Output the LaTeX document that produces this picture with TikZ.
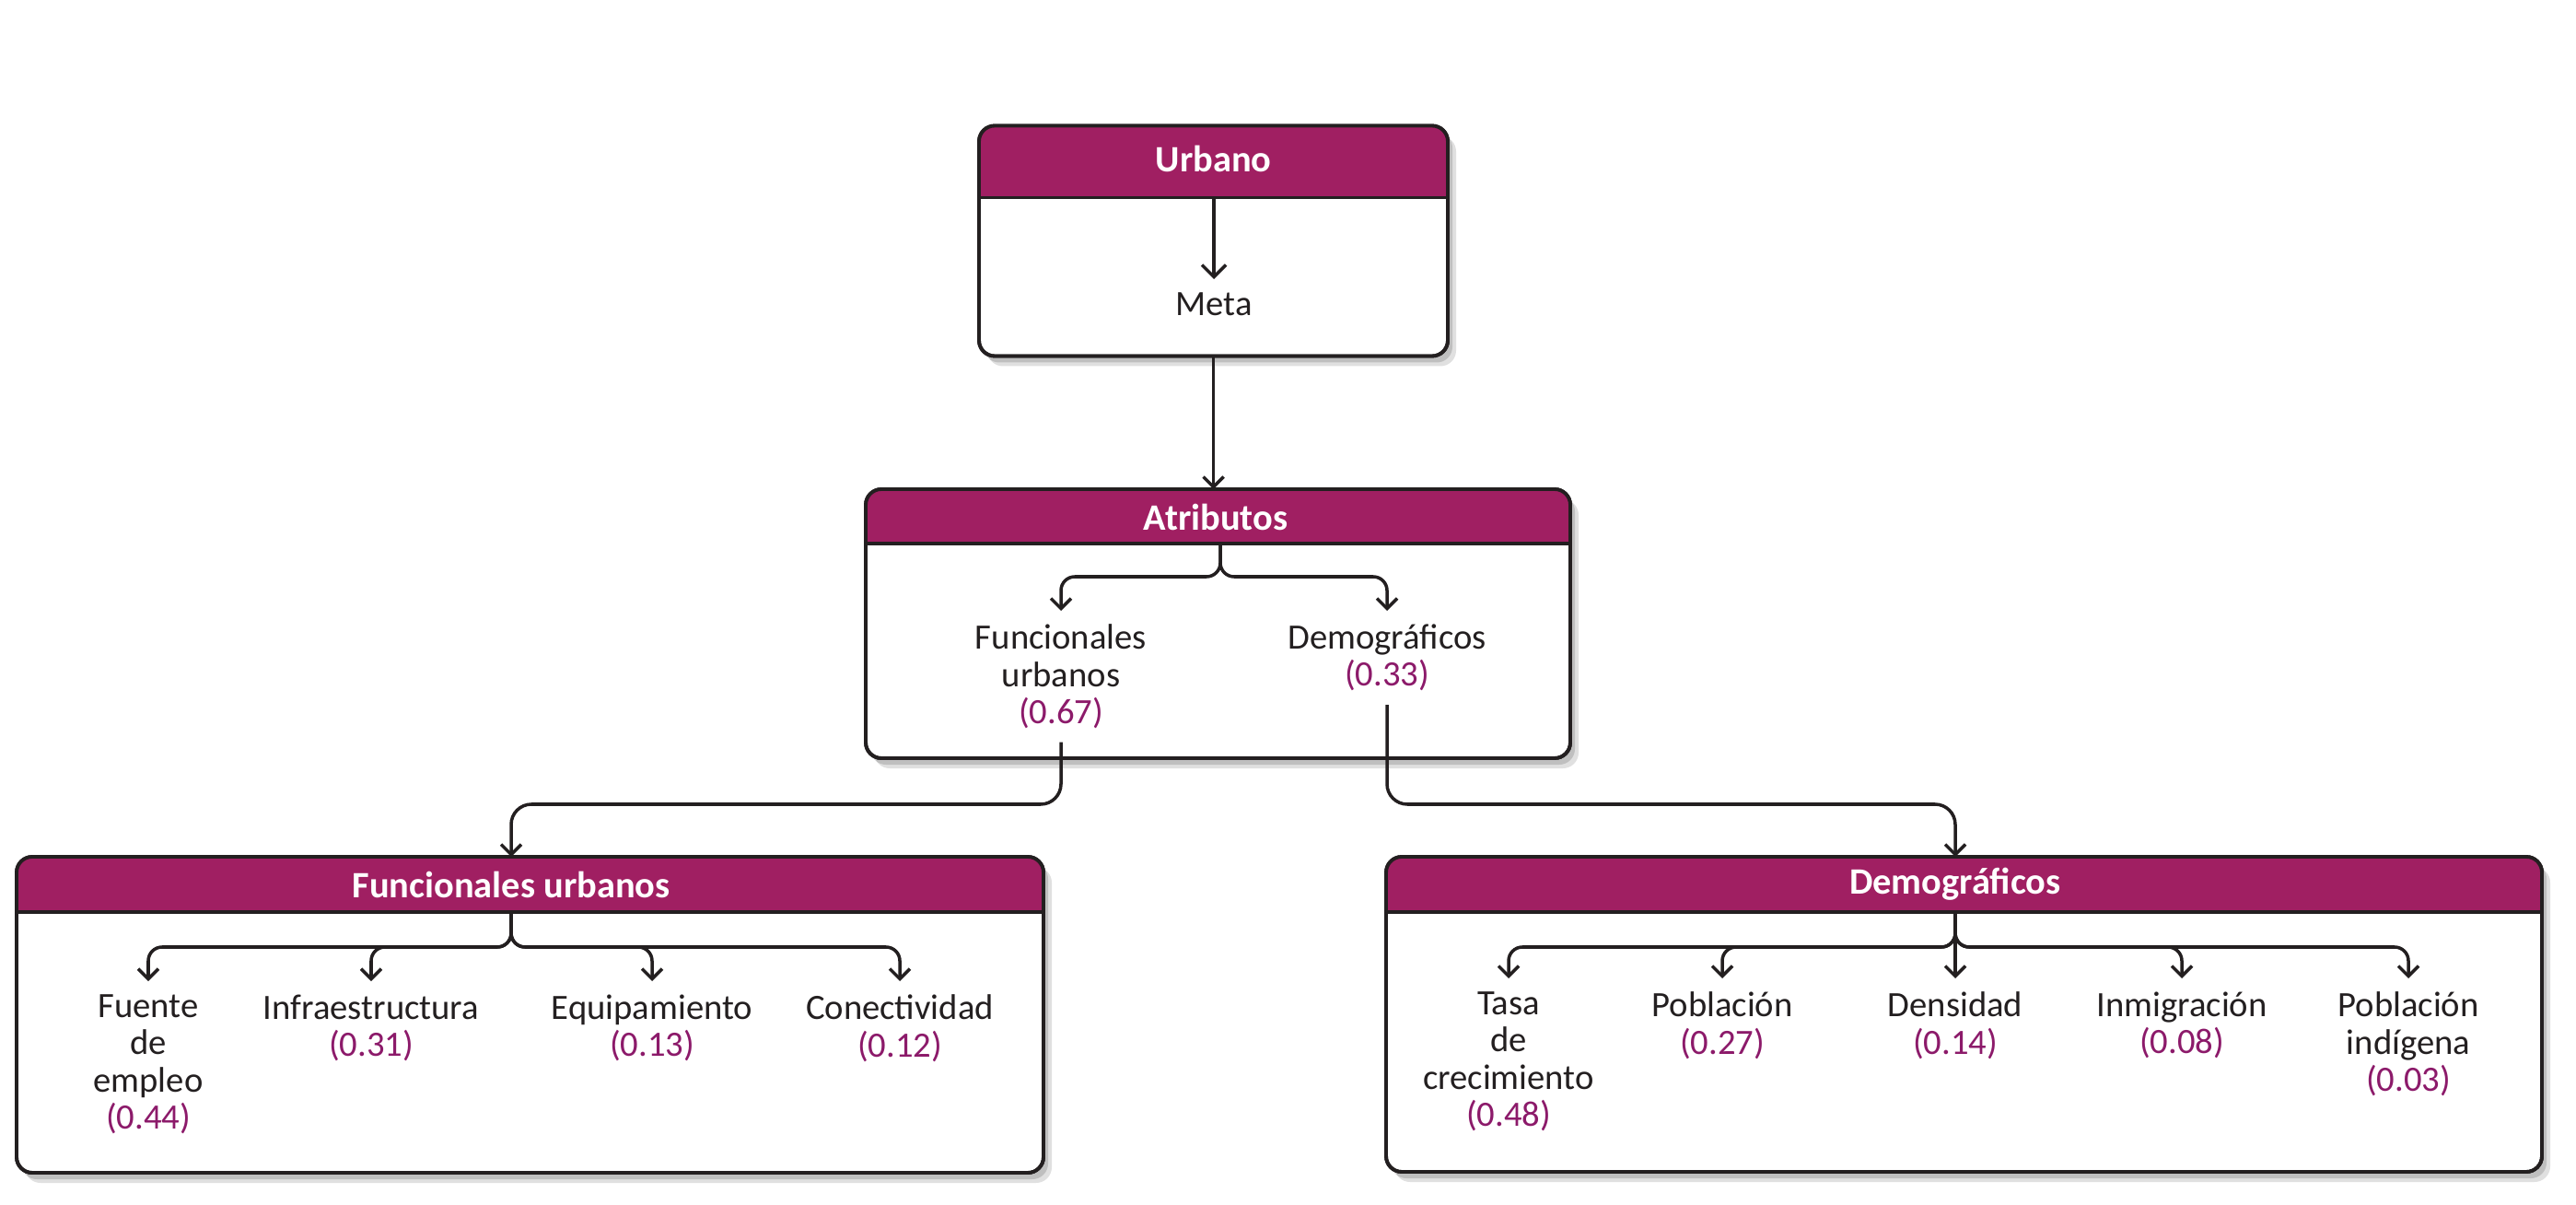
\documentclass[tikz,border=0pt]{standalone}
\usepackage{fontspec}
\setmainfont{Carlito}
\usetikzlibrary{arrows.meta,shadows}
\definecolor{headfill}{HTML}{A01F62}
\definecolor{wtcol}{HTML}{8C1A6A}
\definecolor{linecol}{HTML}{231F20}
\newcommand{\wt}[1]{\textcolor{wtcol}{#1}}
\tikzset{
  panel/.style={draw=linecol, line width=1.1pt, fill=white, rounded corners=0.17cm,
    inner sep=0pt, outer sep=0pt,
    drop shadow={shadow xshift=0.09cm, shadow yshift=-0.11cm, opacity=0.12, fill=black},
    drop shadow={shadow xshift=0.05cm, shadow yshift=-0.07cm, opacity=0.15, fill=black}},
  headtext/.style={text=white, font=\fontsize{11.5}{12}\selectfont\bfseries},
  item/.style={align=center, text=linecol, inner sep=4pt, anchor=north,
    font=\fontsize{11}{11.5}\selectfont},
  conn/.style={draw=linecol, line width=1pt, -{Straight Barb[length=0.11cm,width=0.22cm]}},
}
\begin{document}
\begin{tikzpicture}
  \useasboundingbox (0,0) rectangle (27.97,-13.08);
  \node[panel, minimum width=5.09cm, minimum height=2.50cm] (urb) at (13.175,-2.615) {};
  \node[panel, minimum width=7.65cm, minimum height=2.92cm] (atr) at (13.225,-6.77) {};
  \node[panel, minimum width=11.15cm, minimum height=3.43cm] (fun) at (5.755,-11.015) {};
  \node[panel, minimum width=12.55cm, minimum height=3.42cm] (dem) at (21.325,-11.01) {};
  \foreach \p/\h in {urb/0.78,atr/0.59,fun/0.60,dem/0.60}{
    \begin{scope}
      \clip[rounded corners=0.17cm] (\p.south west) rectangle (\p.north east);
      \fill[headfill] (\p.north west) rectangle ([yshift=-\h cm]\p.north east);
    \end{scope}
    \draw[linecol, line width=1.1pt] ([yshift=-\h cm]\p.north west) -- ([yshift=-\h cm]\p.north east);
    \draw[linecol, line width=1.1pt, rounded corners=0.17cm] (\p.south west) rectangle (\p.north east);
  }
  \node[headtext] (urbT) at (13.175,-1.72) {Urbano};
  \node[headtext] (atrT) at (13.20,-5.61) {Atributos};
  \node[headtext] (funT) at (5.55,-9.60) {Funcionales urbanos};
  \node[headtext] (demT) at (21.23,-9.60) {Demográficos};

  \node[item] (meta) at (13.18,-3.03) {Meta};

  \node[item] (fu) at (11.52,-6.63) {Funcionales\\urbanos\\\wt{(0.67)}};
  \node[item] (dm) at (15.06,-6.63) {Demográficos\\\wt{(0.33)}};

  \node[item] (fe) at (1.61,-10.65) {Fuente\\de\\empleo\\\wt{(0.44)}};
  \node[item] (inf) at (4.03,-10.65) {Infraestructura\\\wt{(0.31)}};
  \node[item] (eq) at (7.08,-10.65) {Equipamiento\\\wt{(0.13)}};
  \node[item] (co) at (9.77,-10.65) {Conectividad\\\wt{(0.12)}};

  \node[item] (ta) at (16.38,-10.62) {Tasa\\de\\crecimiento\\\wt{(0.48)}};
  \node[item] (pob) at (18.70,-10.62) {Población\\\wt{(0.27)}};
  \node[item] (den) at (21.23,-10.62) {Densidad\\\wt{(0.14)}};
  \node[item] (inm) at (23.69,-10.62) {Inmigración\\\wt{(0.08)}};
  \node[item] (pind) at (26.15,-10.62) {Población\\indígena\\\wt{(0.03)}};

  \coordinate (atrH) at (13.25,-5.90);
  \coordinate (funH) at (5.55,-9.90);
  \coordinate (demH) at (21.23,-9.90);

  \draw[conn, -{Straight Barb[length=0.13cm,width=0.26cm]}] (meta |- 0,-2.15) -- (meta.north);
  \draw[conn] (urb.south) -- (urb.south |- atr.north);
  \foreach \n in {fu,dm}
    \draw[conn, rounded corners=0.15cm] (atrH) -- (atrH |- 0,-6.26) -- (\n.north |- 0,-6.26) -- (\n.north);
  \draw[conn, rounded corners=0.22cm] (fu.south) -- (fu.south |- 0,-8.73) -- (funT |- 0,-8.73) -- (funT |- fun.north);
  \draw[conn, rounded corners=0.22cm] (dm.south) -- (dm.south |- 0,-8.73) -- (demT |- 0,-8.73) -- (demT |- dem.north);
  \foreach \n in {fe,inf,eq,co}
    \draw[conn, rounded corners=0.15cm] (funH) -- (funH |- 0,-10.28) -- (\n.north |- 0,-10.28) -- (\n.north);
  \foreach \n in {ta,pob,inm,pind}
    \draw[conn, rounded corners=0.15cm] (demH) -- (demH |- 0,-10.28) -- (\n.north |- 0,-10.28) -- (\n.north);
  \draw[conn] (demH) -- (den.north);
\end{tikzpicture}
\end{document}
